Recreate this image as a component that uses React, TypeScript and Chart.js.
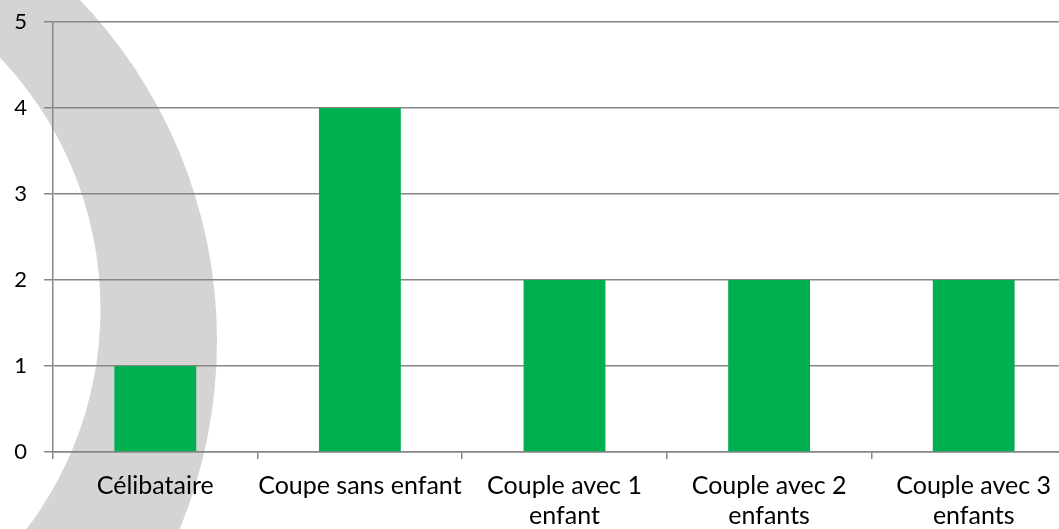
import React, { useEffect, useRef } from "react";
import { Chart, registerables } from "chart.js";

Chart.register(...registerables);

const categories: string[][] = [
  ["Célibataire"],
  ["Coupe sans enfant"],
  ["Couple avec 1", "enfant"],
  ["Couple avec 2", "enfants"],
  ["Couple avec 3", "enfants"],
];
const values: number[] = [1, 4, 2, 2, 2];
const yMin = 0;
const yMax = 5;
const yStep = 1;

const ringPlugin = {
  id: "ringWatermark",
  beforeDraw(chart: any) {
    const ctx = chart.ctx;
    ctx.save();
    ctx.beginPath();
    ctx.arc(-276, 341, 493, 0, Math.PI * 2);
    ctx.moveTo(-264 + 364.5, 309);
    ctx.arc(-264, 309, 364.5, 0, Math.PI * 2);
    ctx.fillStyle = "#d4d4d4";
    ctx.fill("evenodd");
    ctx.restore();
  },
};

export default function App() {
  const ref = useRef<HTMLCanvasElement>(null);
  useEffect(() => {
    if (!ref.current) return;
    const chart = new Chart(ref.current, {
      type: "bar",
      data: {
        labels: categories as any,
        datasets: [
          {
            data: values,
            backgroundColor: "#00B050",
            borderWidth: 0,
            barPercentage: 0.4,
            categoryPercentage: 1,
          },
        ],
      },
      options: {
        animation: false,
        responsive: false,
        maintainAspectRatio: false,
        layout: { padding: { left: 0, right: 4, top: 22, bottom: 0 } },
        plugins: { legend: { display: false }, tooltip: { enabled: false } },
        scales: {
          x: {
            grid: {
              display: true,
              drawOnChartArea: false,
              drawTicks: true,
              tickLength: 7,
              offset: true,
              color: "#868686",
              lineWidth: 1.5,
            },
            border: { display: true, color: "#868686", width: 1.5 },
            ticks: {
              color: "#000",
              font: { family: "Lato", size: 25, lineHeight: 1.2 },
              padding: 12,
              maxRotation: 0,
              autoSkip: false,
            },
            afterFit(scale: any) {
              scale.height = 529 - 452;
            },
          },
          y: {
            min: yMin,
            max: yMax,
            grid: {
              color: "#868686",
              lineWidth: 1.5,
              drawTicks: true,
              tickLength: 9,
            },
            border: { display: true, color: "#868686", width: 1.5 },
            ticks: {
              stepSize: yStep,
              color: "#000",
              font: { family: "Lato", size: 22 },
              padding: 17,
            },
            afterFit(scale: any) {
              scale.width = 53;
              scale.paddingTop = 8;
              scale.paddingBottom = 0;
            },
          },
        },
      },
      plugins: [ringPlugin],
    });
    return () => chart.destroy();
  }, []);
  return (
    <div
      style={{
        position: "fixed",
        left: 0,
        top: 0,
        width: 1059,
        height: 529,
        overflow: "hidden",
        background: "#fff",
      }}
    >
      <canvas ref={ref} width={1080} height={529} style={{ display: "block" }} />
    </div>
  );
}
